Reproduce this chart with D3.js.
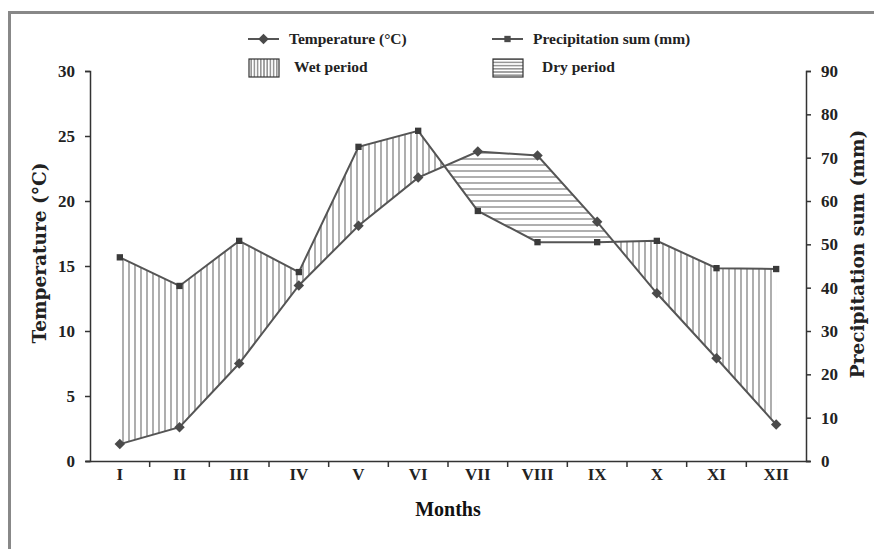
<!DOCTYPE html>
<html>
<head>
<meta charset="utf-8">
<script src="https://cdn.jsdelivr.net/npm/d3@7"></script>
<style>
  body { margin: 0; background: #fff; }
  svg { display: block; font-family: "Liberation Serif", "Times New Roman", serif; font-weight: bold; }
</style>
</head>
<body>
<div class="chart"></div>
<script>
// climate diagram: temperature vs precipitation (1 °C = 3 mm)
const months = ['I', 'II', 'III', 'IV', 'V', 'VI', 'VII', 'VIII', 'IX', 'X', 'XI', 'XII'];
const temperature = [1.3, 2.6, 7.5, 13.5, 18.1, 21.8, 23.8, 23.5, 18.4, 12.9, 7.9, 2.8];
const precipitation = [47, 40.4, 50.8, 43.6, 72.5, 76.2, 57.7, 50.5, 50.5, 50.8, 44.5, 44.3];
const tempTicks = [0, 5, 10, 15, 20, 25, 30];
const precTicks = [0, 10, 20, 30, 40, 50, 60, 70, 80, 90];

const width = 874;
const height = 549;
const margin = { top: 71, right: 68, bottom: 88, left: 90 };
const lineColor = '#555';
const hatchColor = '#9a9a9a';

const svg = d3.select('.chart')
  .append('svg')
  .attr('width', width)
  .attr('height', height);

// hatch patterns (chart ones and denser legend ones)
const defs = svg.append('defs');
const makePattern = (id, step, vertical, color, sw) => {
  const pat = defs.append('pattern')
    .attr('id', id)
    .attr('patternUnits', 'userSpaceOnUse')
    .attr('width', step).attr('height', step);
  if (vertical) {
    pat.append('line')
      .attr('x1', step / 2).attr('x2', step / 2).attr('y1', 0).attr('y2', step);
  } else {
    pat.append('line')
      .attr('x1', 0).attr('x2', step).attr('y1', step / 2).attr('y2', step / 2);
  }
  pat.select('line').attr('stroke', color).attr('stroke-width', sw);
};
makePattern('wet', 6, true, hatchColor, 1.6);
makePattern('dry', 6, false, hatchColor, 1.6);
makePattern('wet-legend', 3.2, true, '#666', 1.1);
makePattern('dry-legend', 3.2, false, '#666', 1.1);

// outer frame
svg.append('path')
  .attr('d', `M9.5,${height} V12.5 H${width}`)
  .attr('fill', 'none')
  .attr('stroke', '#888')
  .attr('stroke-width', 3);

const x = d3.scaleBand()
  .domain(months)
  .range([margin.left, width - margin.right]);
const xc = m => x(m) + x.bandwidth() / 2;

const yT = d3.scaleLinear()
  .domain([0, 30])
  .range([height - margin.bottom, margin.top]);
const yP = d3.scaleLinear()
  .domain([0, 90])
  .range([height - margin.bottom, margin.top]);

const data = months.map((m, i) => ({ m, t: temperature[i], p: precipitation[i] }));

// clip regions: above / below the temperature line
const aboveTemp = d3.area()
  .x(d => xc(d.m))
  .y0(margin.top - 10)
  .y1(d => yT(d.t));
const belowTemp = d3.area()
  .x(d => xc(d.m))
  .y0(height)
  .y1(d => yT(d.t));
defs.append('clipPath').attr('id', 'clip-above')
  .append('path').attr('d', aboveTemp(data));
defs.append('clipPath').attr('id', 'clip-below')
  .append('path').attr('d', belowTemp(data));

const between = d3.area()
  .x(d => xc(d.m))
  .y0(d => yT(d.t))
  .y1(d => yP(d.p));

svg.append('path')
  .attr('d', between(data))
  .attr('fill', 'url(#wet)')
  .attr('clip-path', 'url(#clip-above)');
svg.append('path')
  .attr('d', between(data))
  .attr('fill', 'url(#dry)')
  .attr('clip-path', 'url(#clip-below)');

// axes
const styleAxis = (g) => {
  g.selectAll('path, line').attr('stroke', '#333').attr('stroke-width', 1.5);
  g.selectAll('text').attr('font-size', 17).attr('font-family', '"Liberation Serif", serif')
    .attr('font-weight', 'bold').attr('fill', '#222');
};

svg.append('g')
  .attr('transform', `translate(0,${height - margin.bottom})`)
  .call(d3.axisBottom(x).tickSizeOuter(0).tickSizeInner(0).tickPadding(7))
  .call(styleAxis)
  .call(g => g.select('.domain').attr('d', `M${margin.left - 4},0.5H${width - margin.right + 4}`));

// x tick marks at band edges
svg.append('g')
  .selectAll('line')
  .data(months.slice(1))
  .enter()
    .append('line')
    .attr('x1', d => x(d)).attr('x2', d => x(d))
    .attr('y1', height - margin.bottom).attr('y2', height - margin.bottom + 6)
    .attr('stroke', '#333').attr('stroke-width', 1.5);

svg.append('g')
  .attr('transform', `translate(${margin.left},0)`)
  .call(d3.axisLeft(yT).tickValues(tempTicks).tickSizeOuter(0).tickSize(5).tickPadding(10))
  .call(styleAxis);

svg.append('g')
  .attr('transform', `translate(${width - margin.right},0)`)
  .call(d3.axisRight(yP).tickValues(precTicks).tickSizeOuter(0).tickSize(5).tickPadding(10))
  .call(styleAxis);

// lines
const tLine = d3.line().x(d => xc(d.m)).y(d => yT(d.t));
const pLine = d3.line().x(d => xc(d.m)).y(d => yP(d.p));

svg.append('path').attr('d', tLine(data))
  .attr('fill', 'none').attr('stroke', lineColor).attr('stroke-width', 2);
svg.append('path').attr('d', pLine(data))
  .attr('fill', 'none').attr('stroke', lineColor).attr('stroke-width', 2);

const diamond = d3.symbol().type(d3.symbolDiamond2).size(70);
const square = d3.symbol().type(d3.symbolSquare).size(40);

svg.append('g').selectAll('path')
  .data(data)
  .enter()
    .append('path')
    .attr('d', diamond)
    .attr('transform', d => `translate(${xc(d.m)},${yT(d.t)})`)
    .attr('fill', '#4a4a4a');

svg.append('g').selectAll('path')
  .data(data)
  .enter()
    .append('path')
    .attr('d', square)
    .attr('transform', d => `translate(${xc(d.m)},${yP(d.p)})`)
    .attr('fill', '#3a3a3a');

// axis titles (wider serif face like the original)
svg.append('text')
  .attr('transform', `translate(46,253) rotate(-90)`)
  .attr('text-anchor', 'middle')
  .attr('font-family', '"DejaVu Serif", serif')
  .attr('font-size', 18.5)
  .attr('fill', '#222')
  .text('Temperature (°C)');

svg.append('text')
  .attr('transform', `translate(864,254) rotate(-90)`)
  .attr('text-anchor', 'middle')
  .attr('font-family', '"DejaVu Serif", serif')
  .attr('font-size', 18.5)
  .attr('fill', '#222')
  .text('Precipitation sum (mm)');

svg.append('text')
  .attr('x', 448).attr('y', 516)
  .attr('text-anchor', 'middle')
  .attr('font-size', 20)
  .attr('fill', '#111')
  .text('Months');

// legend
const legend = svg.append('g').attr('font-size', 15.5).attr('fill', '#222');

const lineItem = (x0, label, sym) => {
  legend.append('line')
    .attr('x1', x0).attr('x2', x0 + 31).attr('y1', 39).attr('y2', 39)
    .attr('stroke', lineColor).attr('stroke-width', 2);
  legend.append('path')
    .attr('d', sym)
    .attr('transform', `translate(${x0 + 15.5},39)`)
    .attr('fill', '#4a4a4a');
  legend.append('text')
    .attr('x', x0 + 41).attr('y', 44)
    .text(label);
};
lineItem(248, 'Temperature (°C)', diamond);
lineItem(492, 'Precipitation sum (mm)', square);

const boxItem = (x0, tx, label, pat) => {
  legend.append('rect')
    .attr('x', x0).attr('y', 59).attr('width', 30).attr('height', 18)
    .attr('fill', `url(#${pat})`)
    .attr('stroke', '#333').attr('stroke-width', 1.2);
  legend.append('text')
    .attr('x', tx).attr('y', 72)
    .text(label);
};
boxItem(249, 294, 'Wet period', 'wet-legend');
boxItem(493, 542, 'Dry period', 'dry-legend');
</script>
</body>
</html>
